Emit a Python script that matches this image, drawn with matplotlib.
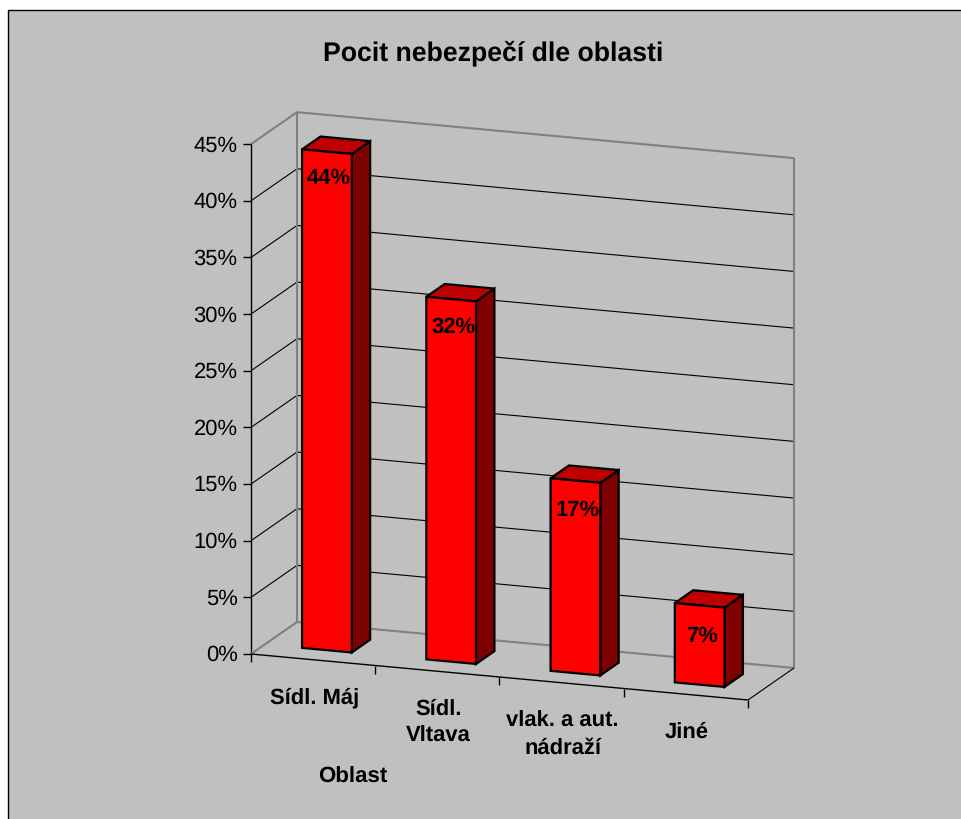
import matplotlib
matplotlib.use("Agg")
import matplotlib.pyplot as plt
from matplotlib.patches import Polygon, Rectangle

plt.rcParams['font.family'] = ['Liberation Sans', 'DejaVu Sans']
plt.rcParams['text.hinting'] = 'none'

# data
categories = ["Sídl. Máj", "Sídl.\nVltava", "vlak. a aut.\nnádraží", "Jiné"]
values = [44, 32, 17, 7]
y_ticks = [0, 5, 10, 15, 20, 25, 30, 35, 40, 45]
title = "Pocit nebezpečí dle oblasti"
x_title = "Oblast"

GREY = "#808080"
BG = "#c0c0c0"

# oblique projection used by the old 3D column chart, in figure pixels
ORIGIN = (251, 655)
UNIT_X = (124.25, 11.5)   # one category along the front edge
UNIT_D = (46, -32)        # full depth of the floor
UNIT_V = 11.33            # one percent going up


def proj(u, v, d=0):
    x = ORIGIN[0] + u * UNIT_X[0] + d * UNIT_D[0]
    y = ORIGIN[1] + u * UNIT_X[1] + d * UNIT_D[1] - v * UNIT_V
    return x, y


def seg(ax, a, b, color="black", lw=1.0, z=2):
    ax.plot([a[0], b[0]], [a[1], b[1]], color=color, lw=lw, zorder=z,
            solid_capstyle="butt")


fig = plt.figure(figsize=(9.62, 8.2), dpi=100, facecolor="white")
ax = fig.add_axes([0, 0, 1, 1])
ax.set_xlim(0, 962)
ax.set_ylim(820, 0)
ax.axis("off")

ax.add_patch(Rectangle((8, 11), 970, 830, facecolor=BG, edgecolor="black", lw=1.0, zorder=0))

n = len(categories)
top = y_ticks[-1]

# gridlines on the two walls
for t in y_ticks[1:-1]:
    seg(ax, proj(0, t), proj(0, t, 1), lw=0.8)
    seg(ax, proj(0, t, 1), proj(n, t, 1), lw=0.8)

# wall frame
seg(ax, proj(0, 0), proj(0, top), lw=1.0)
seg(ax, proj(0, 0, 1), proj(0, top, 1), GREY, 1.5)
seg(ax, proj(n, 0, 1), proj(n, top, 1), GREY, 1.5)
seg(ax, proj(0, top), proj(0, top, 1), GREY, 1.5)
seg(ax, proj(0, top, 1), proj(n, top, 1), GREY, 1.5)
seg(ax, proj(0, 0), proj(0, 0, 1), GREY, 1.5)
seg(ax, proj(0, 0, 1), proj(n, 0, 1), GREY, 1.5)

# floor front and right edges
seg(ax, proj(0, 0), proj(n, 0), lw=1.0)
seg(ax, proj(n, 0), proj(n, 0, 1), lw=0.8)

# ticks
for t in y_ticks:
    x, y = proj(0, t)
    seg(ax, (x - 8, y), (x, y), lw=1.0)
    ax.text(x - 13.5, y + 0.5, f"{t}%", ha="right", va="center", fontsize=15.8, color="black")
for i in range(n + 1):
    x, y = proj(i, 0)
    seg(ax, (x, y), (x, y + 8), lw=1.0)

# bars
for i, val in enumerate(values):
    u0, u1 = i + 0.3, i + 0.7
    d0, d1 = 0.3, 0.7
    z = 5 + i
    front = [proj(u0, 0, d0), proj(u1, 0, d0), proj(u1, val, d0), proj(u0, val, d0)]
    side = [proj(u1, 0, d0), proj(u1, 0, d1), proj(u1, val, d1), proj(u1, val, d0)]
    cap = [proj(u0, val, d0), proj(u1, val, d0), proj(u1, val, d1), proj(u0, val, d1)]
    for pts, c in ((side, "#7f0000"), (cap, "#bf0000"), (front, "#ff0000")):
        ax.add_patch(Polygon(pts, closed=True, facecolor=c, edgecolor="black",
                             lw=1.6, joinstyle="miter", zorder=z))
    x, y = proj(i + 0.5, val, d0)
    # labels sit a little lower on the shorter bars
    ax.text(x + 2, y + 31 - 0.13 * val, f"{val}%", ha="center", va="center", fontsize=15.8,
            fontweight="bold", color="black", zorder=20)

# category labels
for i, lab in enumerate(categories):
    x, y = proj(i + 0.5, 0)
    ax.text(x + 1, y + 27, lab, ha="center", va="top", fontsize=15.8,
            fontweight="bold", linespacing=1.4, color="black")

ax.text(493, 53, title, ha="center", va="center", fontsize=19.2, fontweight="bold")
ax.text(353, 777, x_title, ha="center", va="center", fontsize=16, fontweight="bold")

fig.savefig("out.png", dpi=100, facecolor="white")
